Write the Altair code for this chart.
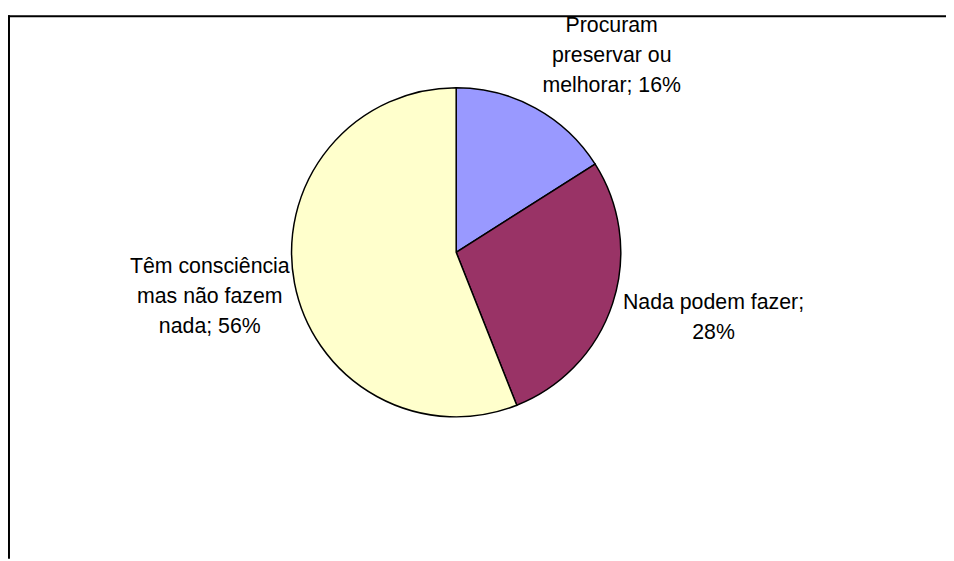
import math
import altair as alt
import pandas as pd

categories = ["Procuram preservar ou melhorar", "Nada podem fazer", "Têm consciência mas não fazem nada"]
values = [16, 28, 56]
labels = ["Procuram\npreservar ou\nmelhorar; 16%", "Nada podem fazer;\n28%", "Têm consciência\nmas não fazem\nnada; 56%"]
colors = ["#9999FF", "#993366", "#FFFFCC"]

df = pd.DataFrame({"cat": categories, "value": values, "label": labels, "ord": list(range(len(categories)))})

CX, CY, R = 452, 244, 166
W, H = 946, 553

base = alt.Chart(df)

pie = base.mark_arc(outerRadius=R, stroke="black", strokeWidth=1.5).encode(
    theta=alt.Theta("value:Q", stack=True),
    color=alt.Color("cat:N", scale=alt.Scale(domain=categories, range=colors), legend=None),
    order=alt.Order("ord:Q"),
    x=alt.value(CX),
    y=alt.value(CY),
)

lab_base = base.transform_window(
    cum="sum(value)", sort=[alt.SortField("ord")]
).transform_calculate(
    mid="datum.cum - datum.value / 2"
)

offsets = {categories[0]: (34, -5), categories[1]: (17, -28), categories[2]: (2, -33)}
text_layers = []
for c in categories:
    dx, dy = offsets[c]
    t = lab_base.transform_filter(alt.datum.cat == c).mark_text(
        font="Liberation Sans", fontSize=21.5, lineHeight=30.5, lineBreak="\n",
        align="center", baseline="middle", color="black", dx=dx, dy=dy
    ).encode(
        theta=alt.Theta("mid:Q", scale=alt.Scale(domain=[0, sum(values)], range=[0, 2 * math.pi])),
        radius=alt.value(255),
        x=alt.value(CX),
        y=alt.value(CY),
        text="label:N",
    )
    text_layers.append(t)

frame_top = alt.Chart(pd.DataFrame({"a": [0]})).mark_rule(color="black", strokeWidth=2).encode(
    x=alt.value(0), x2=alt.value(W), y=alt.value(6)
)
frame_left = alt.Chart(pd.DataFrame({"a": [0]})).mark_rule(color="black", strokeWidth=2).encode(
    x=alt.value(1), y=alt.value(5), y2=alt.value(H)
)

chart = alt.layer(frame_top, frame_left, pie, *text_layers).properties(
    width=W, height=H, padding=0, autosize=alt.AutoSizeParams(type="none"), background="white"
).configure_view(stroke=None)

chart.save("out.html", embed_options={"renderer": "svg", "actions": False})
